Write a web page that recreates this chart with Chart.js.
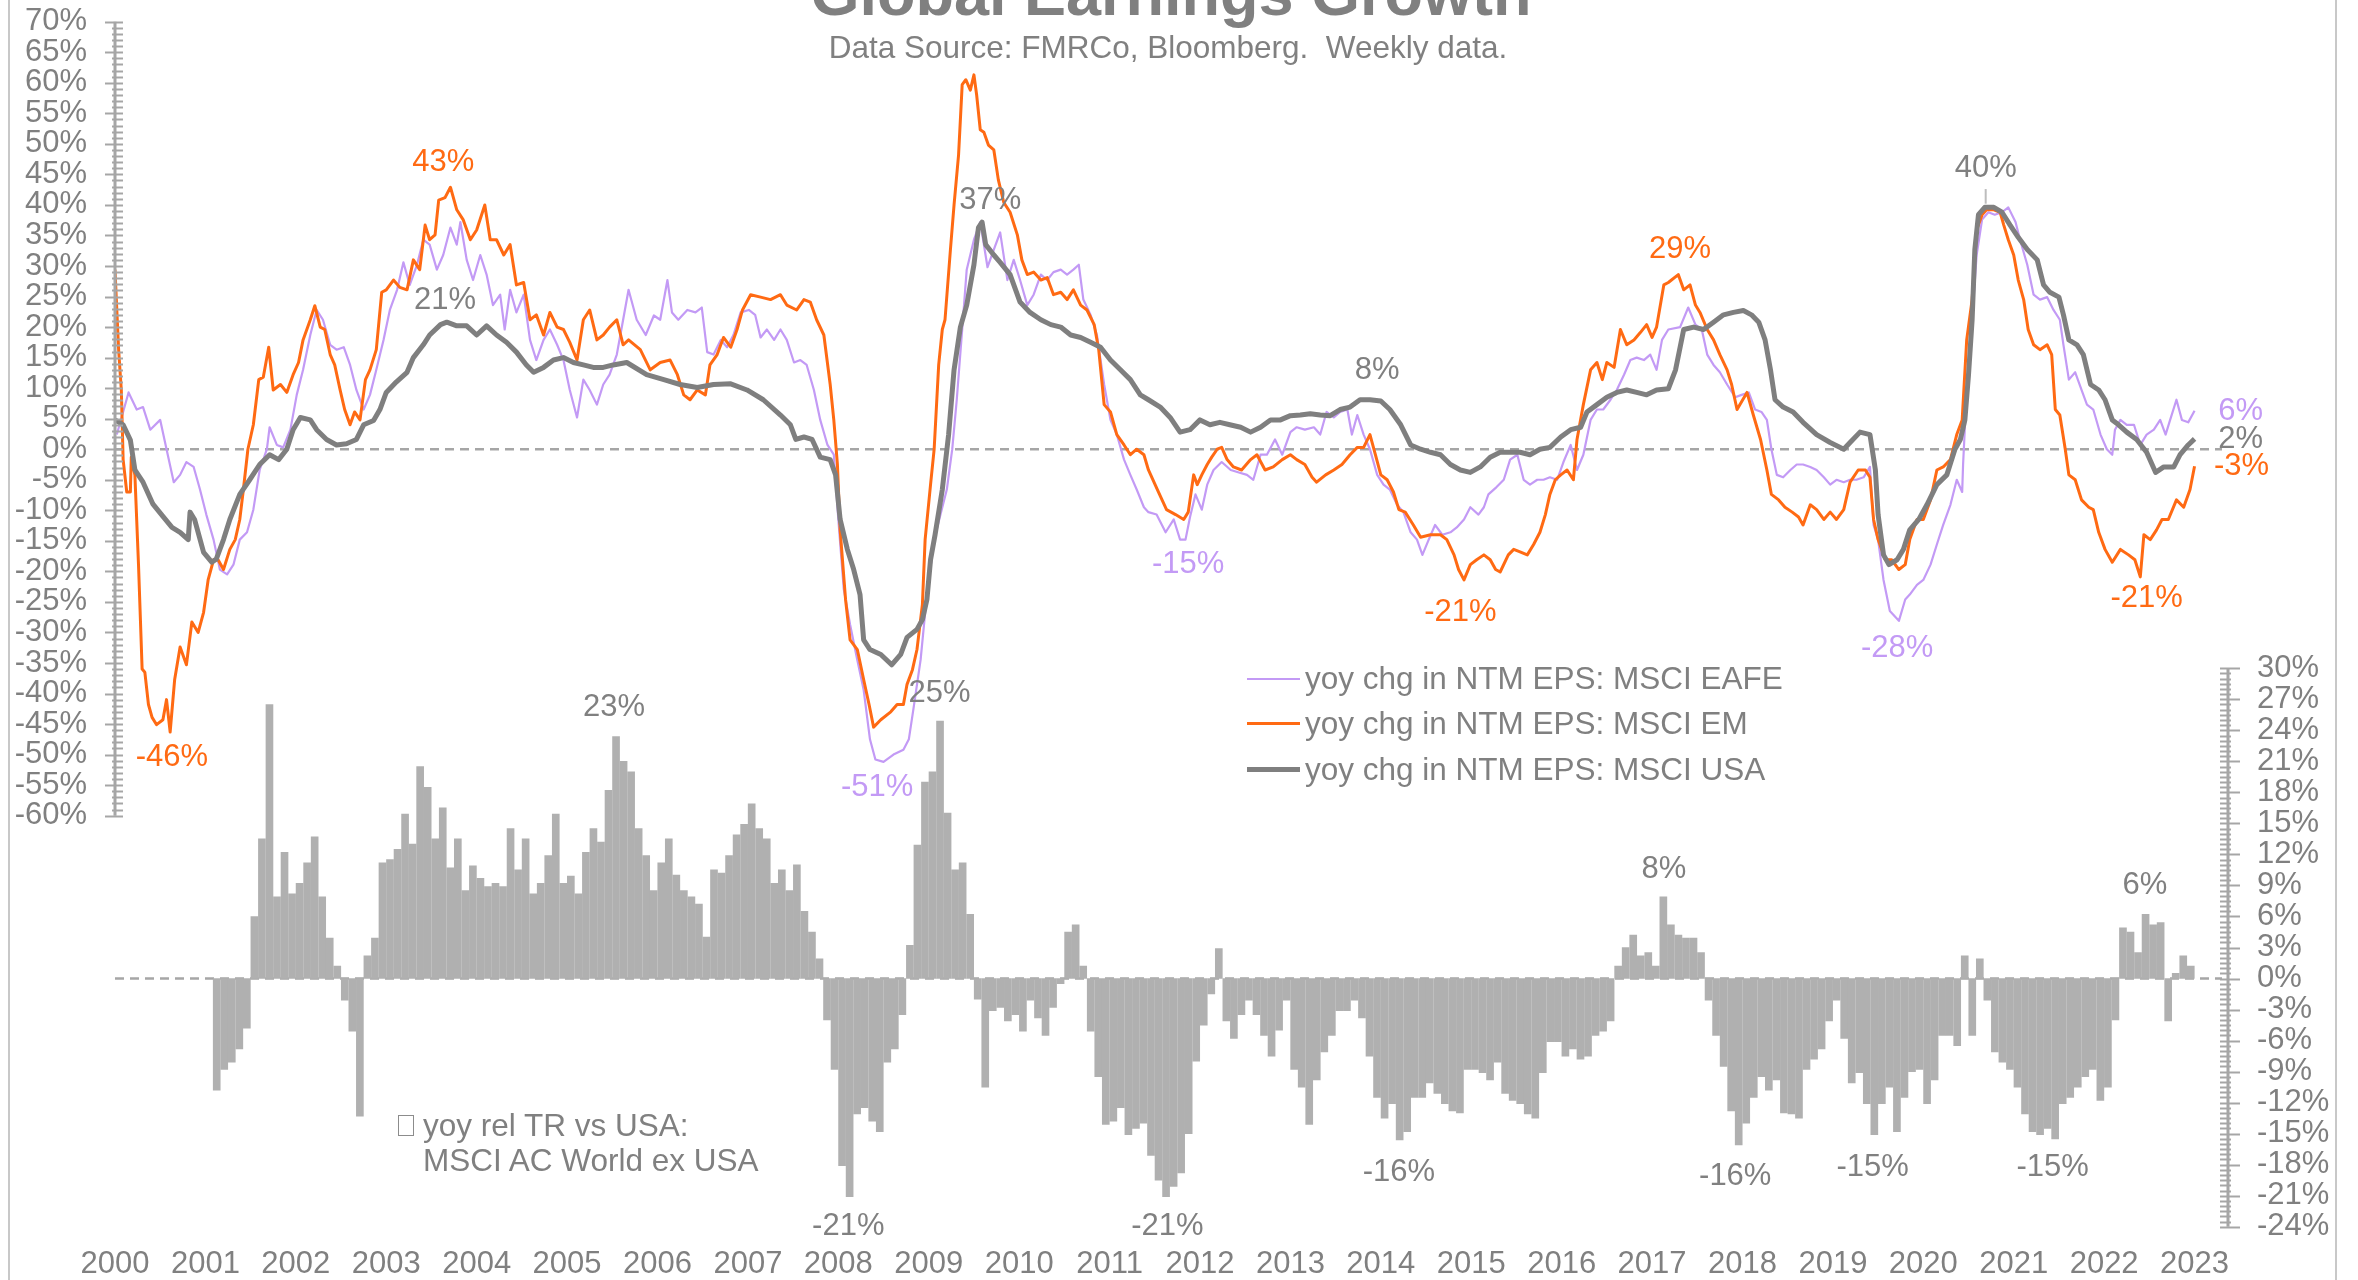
<!DOCTYPE html>
<html>
<head>
<meta charset="utf-8">
<script src="https://cdn.jsdelivr.net/npm/chart.js@4.4.1/dist/chart.umd.min.js"></script>
<style>
  html, body { margin: 0; padding: 0; background: #fff; }
  body { width: 2358px; height: 1280px; overflow: hidden; position: relative; font-family: "Liberation Sans", Arial, sans-serif; color: #808080; }
  #wrap { position: absolute; left: 0; top: 0; width: 2358px; height: 1300px; }
  canvas { position: absolute; left: 0; top: 0; }
  .frame { position: absolute; top: 0; width: 2px; height: 1300px; background: #c8c8c8; }
  .title { position: absolute; left: 0; width: 2342px; top: -38px; text-align: center; font-weight: bold; font-size: 63px; line-height: 63px; white-space: nowrap; }
  .sub { position: absolute; left: 0; width: 2336px; top: 32px; text-align: center; font-size: 31.5px; line-height: 31px; white-space: nowrap; }
  .txt { position: absolute; font-size: 31.5px; line-height: 31px; white-space: nowrap; }
  .key { position: absolute; width: 53px; }
  .box { position: absolute; width: 14px; height: 19px; border: 1.5px solid #8c8c8c; background: #fff; }
</style>
</head>
<body>
<div id="wrap">
  <canvas id="chart" width="2358" height="1300"></canvas>
  <div class="frame" style="left:8px"></div>
  <div class="frame" style="left:2335px"></div>
  <div class="title">Global Earnings Growth</div>
  <div class="sub">Data Source: FMRCo, Bloomberg.&nbsp; Weekly data.</div>

  <div class="key" style="left:1247px; top:678px; height:2px; background:#c39af5"></div>
  <div class="txt" style="left:1305px; top:663px">yoy chg in NTM EPS: MSCI EAFE</div>
  <div class="key" style="left:1247px; top:722px; height:3px; background:#ff6a13"></div>
  <div class="txt" style="left:1305px; top:708px">yoy chg in NTM EPS: MSCI EM</div>
  <div class="key" style="left:1247px; top:767px; height:5px; background:#7f7f7f"></div>
  <div class="txt" style="left:1305px; top:754px">yoy chg in NTM EPS: MSCI USA</div>

  <div class="box" style="left:398px; top:1115px"></div>
  <div class="txt" style="left:423px; top:1110px">yoy rel TR vs USA:</div>
  <div class="txt" style="left:423px; top:1145px">MSCI AC World ex USA</div>
</div>

<script>
// values: [year, % yoy]
const eafe = [
  [2000.02,2.4],[2000.15,9.3],[2000.24,6.5],[2000.31,6.9],[2000.39,3.2],[2000.50,4.8],[2000.57,0],[2000.65,-5.4],[2000.72,-4.2],[2000.79,-2.1],[2000.87,-2.9],[2000.94,-6.6],
  [2001.01,-10.7],[2001.09,-14.8],[2001.16,-19.7],[2001.24,-20.5],[2001.31,-18.9],[2001.38,-14.8],[2001.46,-13.6],[2001.53,-9.9],[2001.60,-3.4],[2001.68,0],[2001.71,3.6],[2001.79,0.7],[2001.86,0.3],[2001.94,3.2],
  [2002.01,8.9],[2002.08,13.0],[2002.16,18.7],[2002.23,22.8],[2002.30,21.2],[2002.38,17.1],[2002.45,16.3],[2002.53,16.7],[2002.60,13.8],[2002.67,9.7],[2002.75,6.5],[2002.82,8.9],[2002.89,13.0],[2002.97,17.9],
  [2003.04,22.8],[2003.12,26.1],[2003.19,30.6],[2003.26,26.9],[2003.34,30.2],[2003.41,34.3],[2003.48,33.5],[2003.56,29.4],[2003.63,31.8],[2003.71,36.3],[2003.78,33.5],[2003.82,37.2],[2003.89,31.0],[2003.96,27.7],
  [2004.04,31.8],[2004.11,28.6],[2004.18,23.6],[2004.26,25.3],[2004.31,19.6],[2004.37,26.1],[2004.44,22.4],[2004.52,25.3],[2004.59,17.9],[2004.66,14.6],[2004.74,17.9],[2004.81,19.6],[2004.89,17.1],[2004.96,14.6],
  [2005.03,9.7],[2005.11,5.2],[2005.18,11.4],[2005.25,9.7],[2005.33,7.3],[2005.40,10.6],[2005.47,12.2],[2005.55,15.5],[2005.62,21.2],[2005.68,26.1],[2005.77,21.2],[2005.87,18.7],[2005.96,21.9],
  [2006.03,21.2],[2006.11,27.7],[2006.16,22.4],[2006.23,21.2],[2006.33,22.8],[2006.42,22.4],[2006.49,23.2],[2006.55,15.9],[2006.62,15.5],[2006.70,17.9],[2006.77,16.7],[2006.84,18.7],[2006.92,22.4],
  [2007.01,22.8],[2007.08,22.0],[2007.14,18.3],[2007.21,19.6],[2007.29,17.9],[2007.36,19.6],[2007.43,17.9],[2007.51,14.2],[2007.58,14.6],[2007.65,13.8],[2007.73,9.7],[2007.80,4.8],[2007.88,0.7],[2007.95,-0.9],
  [2008.00,-11.5],[2008.06,-22.9],[2008.13,-28.7],[2008.21,-34.5],[2008.28,-39.4],[2008.35,-47.5],[2008.41,-50.8],[2008.50,-51.2],[2008.61,-50.0],[2008.72,-49.2],[2008.78,-47.5],[2008.83,-42.6],[2008.91,-34.5],[2008.98,-23.8],
  [2009.06,-14.8],[2009.13,-10.7],[2009.20,-6.6],[2009.26,0],[2009.31,8.1],[2009.37,19.6],[2009.42,29.4],[2009.50,34.3],[2009.57,37.2],[2009.65,29.8],[2009.72,32.7],[2009.79,35.5],[2009.87,27.7],[2009.94,31.0],
  [2010.01,27.7],[2010.09,23.6],[2010.16,25.3],[2010.24,28.6],[2010.31,27.7],[2010.38,29.0],[2010.46,29.4],[2010.53,28.6],[2010.60,29.4],[2010.66,30.2],[2010.71,24.5],[2010.79,22.0],[2010.86,18.7],[2010.94,10.6],
  [2011.01,4.8],[2011.08,2.4],[2011.16,-1.7],[2011.23,-4.2],[2011.30,-6.6],[2011.38,-9.5],[2011.43,-10.3],[2011.52,-10.7],[2011.62,-13.6],[2011.71,-11.5],[2011.78,-14.8],[2011.84,-14.8],[2011.89,-11.1],[2011.95,-7.4],
  [2012.02,-9.9],[2012.08,-5.8],[2012.15,-3.4],[2012.24,-2.1],[2012.34,-3.4],[2012.43,-3.8],[2012.52,-4.2],[2012.59,-5.0],[2012.67,-0.9],[2012.74,-0.9],[2012.83,1.6],[2012.91,-0.9],
  [2013.00,2.8],[2013.07,3.6],[2013.16,3.2],[2013.26,3.6],[2013.33,2.4],[2013.40,6.1],[2013.48,5.2],[2013.55,6.1],[2013.63,6.5],[2013.68,2.4],[2013.74,5.6],[2013.81,2.4],[2013.88,0],[2013.96,-4.2],
  [2014.03,-5.8],[2014.10,-6.6],[2014.18,-9.1],[2014.25,-10.3],[2014.33,-13.6],[2014.40,-14.8],[2014.46,-17.3],[2014.53,-14.8],[2014.60,-12.4],[2014.68,-14.0],[2014.77,-13.6],[2014.84,-12.8],[2014.92,-11.5],[2014.99,-9.5],
  [2015.08,-10.7],[2015.14,-9.5],[2015.19,-7.4],[2015.28,-6.2],[2015.36,-5.0],[2015.43,-1.7],[2015.51,-0.9],[2015.58,-5.0],[2015.65,-5.8],[2015.73,-5.0],[2015.80,-5.0],[2015.87,-4.6],[2015.95,-5.0],
  [2016.02,-2.1],[2016.10,0.7],[2016.17,-3.4],[2016.24,-0.9],[2016.32,4.8],[2016.39,6.5],[2016.46,6.5],[2016.54,8.1],[2016.61,9.7],[2016.69,12.2],[2016.76,14.6],[2016.83,15.0],[2016.91,14.6],[2016.98,15.5],
  [2017.05,13.0],[2017.11,17.9],[2017.18,19.6],[2017.31,20.0],[2017.40,23.2],[2017.48,20.4],[2017.55,19.6],[2017.61,15.5],[2017.68,13.8],[2017.75,12.6],[2017.83,10.6],[2017.92,8.5],[2017.99,8.9],
  [2018.07,9.3],[2018.14,6.5],[2018.21,6.1],[2018.27,4.8],[2018.32,0],[2018.38,-4.2],[2018.45,-4.6],[2018.53,-3.4],[2018.60,-2.5],[2018.67,-2.5],[2018.75,-2.9],[2018.82,-3.4],[2018.90,-4.6],[2018.97,-5.8],
  [2019.04,-5.0],[2019.12,-5.4],[2019.19,-5.0],[2019.26,-5.0],[2019.34,-4.6],[2019.41,-2.9],[2019.45,-12.4],[2019.50,-14.8],[2019.56,-21.4],[2019.63,-26.5],[2019.73,-28.1],[2019.80,-24.6],[2019.85,-23.8],[2019.93,-22.2],
  [2020.00,-21.4],[2020.08,-18.9],[2020.15,-15.6],[2020.22,-12.4],[2020.30,-9.1],[2020.37,-5.0],[2020.43,-7.0],[2020.44,-2.5],[2020.48,9.7],[2020.54,21.2],[2020.59,31.8],[2020.65,37.6],[2020.72,38.8],[2020.79,38.4],[2020.87,38.8],[2020.94,39.6],
  [2021.02,37.2],[2021.07,34.3],[2021.15,30.2],[2021.22,25.3],[2021.29,24.5],[2021.37,24.9],[2021.44,22.8],[2021.51,21.2],[2021.55,17.1],[2021.61,11.4],[2021.68,12.6],[2021.75,9.7],[2021.81,7.3],[2021.88,6.5],[2021.96,2.4],
  [2022.03,0],[2022.09,-0.9],[2022.12,3.2],[2022.18,4.8],[2022.25,4.0],[2022.33,4.0],[2022.40,0.7],[2022.47,2.4],[2022.55,3.2],[2022.62,4.8],[2022.68,2.4],[2022.73,4.8],[2022.80,8.1],[2022.86,4.8],[2022.93,4.4],[2023.00,6.3]
];

const em = [
  [2000.00,29.4],[2000.04,16.3],[2000.07,9.7],[2000.09,-1.7],[2000.13,-7.0],[2000.17,-7.0],[2000.18,-1.3],[2000.22,-4.2],[2000.26,-18.9],[2000.30,-36.0],[2000.33,-36.5],[2000.37,-41.8],[2000.41,-43.9],[2000.46,-45.1],
  [2000.53,-44.3],[2000.57,-41.0],[2000.61,-46.3],[2000.66,-37.7],[2000.72,-32.4],[2000.79,-35.3],[2000.85,-28.3],[2000.92,-30.0],[2000.98,-26.7],
  [2001.03,-21.4],[2001.09,-18.1],[2001.14,-18.1],[2001.20,-19.7],[2001.27,-16.4],[2001.33,-14.8],[2001.38,-11.5],[2001.42,-6.6],[2001.47,0],[2001.53,4.0],[2001.59,11.4],[2001.64,11.8],[2001.70,16.7],[2001.75,9.7],[2001.83,10.6],[2001.90,9.3],[2001.97,12.2],
  [2002.03,14.2],[2002.08,17.9],[2002.16,21.2],[2002.21,23.5],[2002.27,20.0],[2002.32,19.6],[2002.38,15.5],[2002.43,13.8],[2002.49,9.7],[2002.54,6.5],[2002.60,4.0],[2002.65,6.1],[2002.71,4.8],[2002.77,11.4],[2002.82,13.0],[2002.89,16.3],[2002.95,25.7],
  [2003.00,26.1],[2003.08,27.7],[2003.15,26.5],[2003.23,26.1],[2003.30,31.0],[2003.37,29.4],[2003.43,36.7],[2003.48,34.3],[2003.54,35.1],[2003.58,40.8],[2003.65,41.2],[2003.71,42.9],[2003.78,39.2],[2003.85,37.6],[2003.93,34.3],
  [2004.00,35.9],[2004.09,40.0],[2004.15,34.3],[2004.22,34.3],[2004.30,31.8],[2004.37,33.5],[2004.44,26.9],[2004.52,27.3],[2004.59,21.2],[2004.66,22.0],[2004.74,18.7],[2004.81,22.4],[2004.89,20.0],[2004.96,19.6],
  [2005.03,17.5],[2005.11,14.6],[2005.18,21.2],[2005.25,22.8],[2005.33,17.9],[2005.40,18.7],[2005.47,20.0],[2005.55,21.2],[2005.62,17.1],[2005.68,17.9],[2005.81,16.3],[2005.92,13.0],
  [2006.03,14.2],[2006.14,14.6],[2006.22,12.2],[2006.29,8.9],[2006.36,8.1],[2006.44,9.7],[2006.53,8.9],[2006.58,13.8],[2006.66,15.5],[2006.73,18.3],[2006.81,16.7],[2006.88,19.6],[2006.94,22.8],
  [2007.03,25.3],[2007.14,24.9],[2007.25,24.5],[2007.36,25.3],[2007.43,23.6],[2007.54,22.8],[2007.62,24.5],[2007.69,24.1],[2007.76,21.2],[2007.84,18.7],[2007.91,10.6],[2007.95,4.8],[2007.99,-2.5],
  [2008.02,-13.2],[2008.08,-24.6],[2008.13,-31.2],[2008.21,-32.8],[2008.28,-37.7],[2008.34,-41.8],[2008.39,-45.5],[2008.47,-44.3],[2008.58,-43.0],[2008.65,-41.8],[2008.72,-41.8],[2008.76,-38.5],[2008.82,-36.1],[2008.87,-32.8],[2008.93,-25.4],[2008.96,-14.8],
  [2009.02,-5.8],[2009.06,0],[2009.11,13.8],[2009.15,19.6],[2009.18,21.2],[2009.24,32.7],[2009.28,40.0],[2009.33,48.2],[2009.37,59.7],[2009.41,60.5],[2009.46,58.8],[2009.50,61.3],[2009.53,58.0],[2009.57,52.3],[2009.61,51.9],
  [2009.66,49.8],[2009.72,49.0],[2009.77,44.1],[2009.83,40.4],[2009.90,38.8],[2009.98,35.1],
  [2010.03,31.0],[2010.09,28.6],[2010.16,29.0],[2010.24,27.7],[2010.31,28.1],[2010.38,25.3],[2010.46,25.7],[2010.53,24.5],[2010.60,26.1],[2010.68,23.6],[2010.75,22.8],[2010.83,20.4],[2010.88,16.3],[2010.94,7.3],
  [2011.01,6.1],[2011.08,2.4],[2011.16,0.7],[2011.23,-0.9],[2011.30,0],[2011.38,-0.9],[2011.43,-3.4],[2011.54,-7.0],[2011.63,-9.9],[2011.73,-10.7],[2011.82,-11.5],[2011.87,-10.3],[2011.93,-4.2],[2011.97,-5.8],
  [2012.02,-4.2],[2012.08,-2.5],[2012.13,-1.3],[2012.19,0],[2012.24,0.3],[2012.30,-1.7],[2012.37,-2.9],[2012.46,-3.4],[2012.56,-1.7],[2012.63,-0.9],[2012.72,-3.4],[2012.81,-2.9],[2012.91,-1.7],
  [2013.00,-0.9],[2013.07,-1.7],[2013.16,-2.5],[2013.24,-4.6],[2013.29,-5.4],[2013.39,-4.2],[2013.48,-3.4],[2013.57,-2.5],[2013.66,-0.9],[2013.74,0.3],[2013.81,0.3],[2013.88,2.4],[2013.94,-0.9],
  [2014.00,-4.2],[2014.07,-5.0],[2014.14,-7.0],[2014.20,-9.9],[2014.27,-10.3],[2014.36,-12.4],[2014.44,-14.4],[2014.55,-14.0],[2014.66,-14.0],[2014.73,-14.8],[2014.81,-17.3],[2014.86,-19.7],[2014.92,-21.4],[2014.99,-18.9],
  [2015.06,-18.1],[2015.14,-17.3],[2015.21,-18.1],[2015.27,-19.7],[2015.32,-20.1],[2015.41,-17.3],[2015.47,-16.4],[2015.54,-16.8],[2015.62,-17.3],[2015.69,-15.6],[2015.76,-13.6],[2015.82,-10.7],[2015.87,-7.4],[2015.93,-5.0],[2015.99,-4.2],
  [2016.06,-3.4],[2016.13,-5.0],[2016.17,1.6],[2016.24,7.3],[2016.32,13.0],[2016.39,14.2],[2016.45,11.4],[2016.50,14.2],[2016.58,13.4],[2016.65,19.6],[2016.72,17.1],[2016.80,17.9],[2016.87,19.1],[2016.94,20.4],
  [2017.00,18.3],[2017.05,20.0],[2017.13,26.9],[2017.18,27.3],[2017.29,28.6],[2017.35,26.1],[2017.42,26.9],[2017.48,23.6],[2017.53,22.4],[2017.61,19.6],[2017.68,17.9],[2017.75,15.5],[2017.83,13.0],[2017.88,10.6],[2017.94,6.5],
  [2018.05,9.3],[2018.12,5.6],[2018.20,1.6],[2018.27,-3.4],[2018.32,-7.4],[2018.40,-8.3],[2018.47,-9.5],[2018.55,-10.3],[2018.62,-11.1],[2018.67,-12.4],[2018.75,-9.1],[2018.82,-9.9],[2018.90,-11.5],[2018.97,-10.3],
  [2019.04,-11.5],[2019.12,-9.9],[2019.19,-5.4],[2019.28,-3.4],[2019.36,-3.4],[2019.41,-4.6],[2019.45,-11.5],[2019.50,-14.8],[2019.58,-18.1],[2019.65,-18.1],[2019.73,-19.7],[2019.80,-18.9],[2019.85,-14.8],[2019.93,-11.5],
  [2020.00,-11.5],[2020.08,-8.3],[2020.15,-3.4],[2020.22,-2.9],[2020.30,-1.7],[2020.37,2.4],[2020.43,4.8],[2020.48,17.9],[2020.54,24.5],[2020.59,35.9],[2020.65,38.4],[2020.70,39.2],[2020.78,39.2],[2020.85,38.8],[2020.89,36.7],[2020.94,34.3],
  [2021.00,31.8],[2021.05,27.7],[2021.11,24.5],[2021.16,19.6],[2021.22,17.1],[2021.29,16.3],[2021.37,17.1],[2021.42,15.5],[2021.46,6.5],[2021.51,5.6],[2021.57,0],[2021.61,-4.2],[2021.68,-5.0],[2021.75,-8.3],[2021.83,-9.5],[2021.88,-9.9],[2021.94,-13.6],
  [2022.01,-16.4],[2022.09,-18.5],[2022.18,-16.4],[2022.27,-17.3],[2022.34,-18.1],[2022.40,-20.9],[2022.44,-14.0],[2022.51,-14.8],[2022.58,-13.2],[2022.64,-11.5],[2022.71,-11.5],[2022.80,-8.3],[2022.88,-9.5],[2022.95,-6.6],[2023.00,-2.8]
];

const usa = [
  [2000.00,4.8],[2000.09,4.0],[2000.17,1.5],[2000.22,-3.4],[2000.31,-5.4],[2000.42,-9.0],[2000.53,-11.0],[2000.63,-12.8],[2000.72,-13.6],[2000.81,-14.8],[2000.83,-10.3],[2000.88,-11.5],[2000.98,-16.9],
  [2001.07,-18.5],[2001.12,-18.0],[2001.20,-14.8],[2001.27,-11.5],[2001.38,-7.4],[2001.49,-5.0],[2001.60,-2.5],[2001.71,-0.9],[2001.81,-1.7],[2001.90,0],[2001.97,3.2],
  [2002.05,5.2],[2002.16,4.8],[2002.23,3.2],[2002.34,1.6],[2002.45,0.7],[2002.56,0.9],[2002.67,1.6],[2002.75,4.0],[2002.86,4.7],[2002.93,6.5],
  [2003.00,9.3],[2003.11,11.0],[2003.23,12.6],[2003.30,15.0],[2003.41,17.1],[2003.48,18.7],[2003.60,20.4],[2003.67,20.8],[2003.78,20.2],[2003.89,20.2],
  [2004.00,18.7],[2004.11,20.2],[2004.22,18.7],[2004.33,17.5],[2004.44,15.9],[2004.55,13.8],[2004.63,12.6],[2004.74,13.4],[2004.85,14.6],[2004.96,15.0],
  [2005.07,14.2],[2005.18,13.8],[2005.29,13.4],[2005.40,13.4],[2005.51,13.8],[2005.66,14.2],[2005.88,12.2],
  [2006.07,11.4],[2006.25,10.6],[2006.44,10.1],[2006.62,10.6],[2006.81,10.7],[2006.99,9.7],
  [2007.17,8.1],[2007.36,5.6],[2007.47,4.0],[2007.53,1.6],[2007.62,2.0],[2007.71,1.6],[2007.80,-1.3],[2007.91,-1.7],[2007.97,-4.2],
  [2008.02,-11.5],[2008.10,-16.4],[2008.17,-19.7],[2008.24,-23.8],[2008.28,-31.2],[2008.35,-32.8],[2008.47,-33.6],[2008.59,-35.3],[2008.69,-33.6],[2008.76,-30.8],[2008.87,-29.5],[2008.93,-27.9],[2008.98,-24.6],
  [2009.02,-18.1],[2009.07,-14.0],[2009.15,-6.6],[2009.22,2.4],[2009.28,13.0],[2009.35,20.0],[2009.42,23.6],[2009.50,30.2],[2009.55,36.3],[2009.59,37.2],[2009.63,33.5],[2009.72,31.8],[2009.79,30.6],[2009.90,28.6],
  [2010.01,24.1],[2010.12,22.4],[2010.24,21.2],[2010.35,20.4],[2010.46,20.0],[2010.57,18.7],[2010.68,18.3],[2010.79,17.5],[2010.90,16.7],
  [2011.01,14.6],[2011.12,13.0],[2011.23,11.4],[2011.34,8.9],[2011.43,8.1],[2011.56,6.9],[2011.67,5.2],[2011.78,2.8],[2011.89,3.2],
  [2012.00,4.8],[2012.11,4.0],[2012.22,4.4],[2012.33,4.0],[2012.45,3.6],[2012.56,2.8],[2012.67,3.6],[2012.78,4.8],[2012.89,4.8],
  [2013.00,5.5],[2013.11,5.6],[2013.22,5.8],[2013.33,5.6],[2013.44,5.5],[2013.55,6.5],[2013.66,6.9],[2013.77,8.1],[2013.88,8.1],
  [2014.00,7.9],[2014.10,6.5],[2014.22,4.0],[2014.33,0.7],[2014.44,0],[2014.55,-0.5],[2014.66,-0.9],[2014.77,-2.5],[2014.88,-3.4],[2014.99,-3.8],
  [2015.10,-2.9],[2015.21,-1.3],[2015.32,-0.5],[2015.43,-0.5],[2015.54,-0.5],[2015.65,-0.9],[2015.76,0],[2015.87,0.3],[2015.99,2.0],
  [2016.10,3.2],[2016.21,3.6],[2016.28,6.1],[2016.39,7.3],[2016.50,8.5],[2016.61,9.3],[2016.72,9.7],[2016.83,9.3],[2016.94,8.9],
  [2017.05,9.7],[2017.18,9.9],[2017.26,13.0],[2017.35,19.6],[2017.46,20.0],[2017.57,19.6],[2017.68,20.8],[2017.79,22.0],[2017.90,22.4],
  [2018.01,22.7],[2018.10,22.0],[2018.18,20.8],[2018.25,17.9],[2018.31,13.0],[2018.36,8.1],[2018.45,6.9],[2018.56,6.1],[2018.67,4.4],[2018.82,2.4],[2018.97,1.1],
  [2019.12,0],[2019.19,1.1],[2019.30,2.8],[2019.41,2.4],[2019.47,-3.4],[2019.50,-10.7],[2019.56,-17.3],[2019.62,-18.9],[2019.71,-18.1],[2019.78,-16.4],[2019.85,-13.2],[2019.95,-11.5],
  [2020.04,-9.1],[2020.15,-5.8],[2020.26,-4.2],[2020.35,0],[2020.41,1.6],[2020.46,4.8],[2020.50,12.2],[2020.54,21.2],[2020.57,32.7],[2020.61,38.4],[2020.68,39.6],[2020.78,39.6],[2020.87,38.8],[2020.96,36.7],
  [2021.05,34.7],[2021.15,32.7],[2021.26,31.0],[2021.33,26.9],[2021.40,25.7],[2021.50,24.9],[2021.55,22.0],[2021.61,17.9],[2021.70,17.1],[2021.77,15.5],[2021.85,10.6],[2021.94,9.7],
  [2022.01,8.1],[2022.09,4.8],[2022.16,4.0],[2022.25,2.8],[2022.36,1.6],[2022.47,-0.5],[2022.57,-3.8],[2022.66,-2.9],[2022.77,-2.9],[2022.84,-0.9],[2022.93,0.7],[2023.00,1.7]
];

// yoy rel TR vs USA, one value per month, Jan 2000 .. Dec 2022
const relTR = [
  null,null,null,null,null,null,null,null,null,null,null,null,
  null,-10.8,-8.8,-8.1,-6.8,-4.8,6.0,13.5,26.5,7.9,12.2,8.2,
  9.2,11.2,13.7,7.9,3.9,1.2,-2.1,-5.1,-13.3,2.2,3.9,11.2,
  11.5,12.5,15.9,13.0,20.5,18.5,13.5,16.5,10.7,13.5,8.5,10.9,
  9.7,8.9,9.2,8.9,14.5,10.5,13.5,8.2,9.2,11.9,15.9,9.2,
  9.9,8.2,12.2,14.5,13.2,18.2,23.4,21.0,20.0,14.5,11.9,8.5,
  11.2,13.5,10.0,8.5,7.9,7.2,4.0,10.5,10.2,11.9,13.9,14.9,
  16.9,14.5,13.5,9.2,10.5,8.5,11.0,6.5,4.5,1.9,-4.0,-8.8,
  -18.1,-21.1,-13.1,-12.5,-13.8,-14.8,-8.1,-6.8,-3.5,3.2,12.9,19.0,
  20.0,24.9,16.0,10.5,11.2,6.2,-2.0,-10.5,-3.1,-2.8,-4.1,-3.5,
  -5.1,-2.1,-3.8,-5.5,-2.8,-0.5,4.5,5.2,1.2,-5.1,-9.5,-14.1,
  -13.8,-12.5,-15.1,-14.5,-14.0,-17.1,-19.5,-21.1,-20.1,-18.8,-15.0,-8.0,
  -4.5,-1.5,2.9,-4.1,-5.8,-3.5,-2.1,-3.5,-5.5,-7.5,-5.0,-2.1,
  -8.8,-10.5,-14.1,-9.8,-7.1,-5.5,-3.1,-3.1,-2.1,-3.8,-7.5,-11.5,
  -13.5,-12.1,-15.6,-14.8,-11.5,-11.5,-10.1,-11.1,-12.1,-12.8,-13.0,-8.8,
  -8.8,-9.1,-9.8,-8.1,-11.1,-11.8,-12.1,-13.1,-13.5,-9.1,-6.1,-6.1,
  -7.5,-6.8,-7.8,-7.5,-5.5,-5.1,-4.1,1.2,3.0,4.2,2.2,2.5,
  1.2,7.9,5.2,4.2,3.9,3.9,2.5,-2.1,-5.5,-8.5,-12.8,-16.1,
  -14.0,-11.5,-9.5,-10.8,-9.8,-13.0,-13.1,-13.5,-8.8,-7.8,-6.8,-4.1,
  -2.1,-5.8,-10.1,-9.1,-12.1,-15.1,-12.1,-10.5,-14.8,-11.5,-9.0,-8.8,
  -12.1,-9.8,-5.5,-5.5,-6.5,2.2,-5.5,1.9,-2.1,-7.1,-8.1,-8.8,
  -10.5,-13.1,-14.8,-15.1,-14.5,-15.5,-12.1,-11.5,-10.5,-9.5,-8.8,-11.8,
  -10.5,-4.0,4.9,4.5,2.5,6.2,5.2,5.4,-4.1,0.5,2.2,1.2
];

const yearTicks = Array.from({length: 24}, (_, i) => 2000 + i);
const leftTicks = Array.from({length: 27}, (_, i) => -60 + i * 5);
const rightTicks = Array.from({length: 19}, (_, i) => -24 + i * 3);

// value labels, [year, value, text]
const emNotes = [[2003.63,47.0,'43%'],[2000.63,-50.4,'-46%'],[2014.88,-26.7,'-21%'],[2017.31,32.7,'29%'],[2022.47,-24.5,'-21%'],[2023.52,-2.8,'-3%']];
const eafeNotes = [[2008.43,-55.3,'-51%'],[2011.87,-18.9,'-15%'],[2019.71,-32.6,'-28%'],[2023.51,6.2,'6%']];
const usaNotes = [[2003.65,24.3,'21%'],[2009.68,40.7,'37%'],[2013.96,12.9,'8%'],[2020.69,45.9,'40%'],[2023.51,1.6,'2%']];
const barNotes = [[2005.52,26.2,'23%'],[2009.12,27.6,'25%'],[2008.11,-24.0,'-21%'],[2011.64,-24.0,'-21%'],[2014.20,-18.8,'-16%'],
  [2017.92,-19.1,'-16%'],[2019.44,-18.3,'-15%'],[2021.43,-18.3,'-15%'],[2017.13,10.5,'8%'],[2022.45,9.0,'6%']];

const C_EAFE = '#c39af5', C_EM = '#ff6a13', C_USA = '#7f7f7f', C_TXT = '#808080', C_AXIS = '#a6a6a6', C_BAR = '#b0b0b0';
const FONT = '"Liberation Sans", Arial, sans-serif';

const pts = arr => arr.map(([x, y]) => ({x, y}));

const decor = {
  id: 'decor',
  beforeDatasetsDraw(chart) {
    const {ctx, chartArea, scales} = chart;
    ctx.save();
    ctx.strokeStyle = C_AXIS;
    ctx.lineWidth = 2.5;
    ctx.setLineDash([9, 6]);
    [scales.y, scales.y1].forEach(s => {
      const py = s.getPixelForValue(0);
      ctx.beginPath();
      ctx.moveTo(chartArea.left, py);
      ctx.lineTo(chartArea.right - 6, py);
      ctx.stroke();
    });
    ctx.restore();
  },
  afterDatasetsDraw(chart) {
    const {ctx, chartArea, scales} = chart;
    const {x, y, y1} = scales;
    ctx.save();
    ctx.strokeStyle = C_AXIS;
    // left axis, 70% .. -60%
    let ax = chartArea.left;
    ctx.lineWidth = 3;
    ctx.beginPath(); ctx.moveTo(ax, y.getPixelForValue(70)); ctx.lineTo(ax, y.getPixelForValue(-60)); ctx.stroke();
    ctx.lineWidth = 2;
    for (let v = -60; v <= 70; v++) {
      const py = Math.round(y.getPixelForValue(v)) + 0.5;
      const major = v % 5 === 0;
      ctx.beginPath(); ctx.moveTo(ax - (major ? 10 : 3), py); ctx.lineTo(ax + 8, py); ctx.stroke();
    }
    // right axis, 30% .. -24%
    ax = chartArea.right;
    ctx.lineWidth = 3;
    ctx.beginPath(); ctx.moveTo(ax, y1.getPixelForValue(30)); ctx.lineTo(ax, y1.getPixelForValue(-24)); ctx.stroke();
    ctx.lineWidth = 2;
    for (let v = -24; v <= 30; v += 0.5) {
      const py = Math.round(y1.getPixelForValue(v)) + 0.5;
      const major = v % 3 === 0;
      ctx.beginPath(); ctx.moveTo(ax - 8, py); ctx.lineTo(ax + (major ? 12 : 3), py); ctx.stroke();
    }
    // leader line of the 40% label
    ctx.strokeStyle = '#bdbdbd';
    ctx.lineWidth = 2;
    ctx.beginPath(); ctx.moveTo(x.getPixelForValue(2020.69), y.getPixelForValue(42.6)); ctx.lineTo(x.getPixelForValue(2020.69), y.getPixelForValue(40.2)); ctx.stroke();
    // value labels
    ctx.font = '31px ' + FONT;
    ctx.textAlign = 'center';
    ctx.textBaseline = 'middle';
    const put = (notes, scale, color) => {
      ctx.fillStyle = color;
      notes.forEach(([xv, yv, t]) => ctx.fillText(t, x.getPixelForValue(xv), scale.getPixelForValue(yv)));
    };
    put(emNotes, y, C_EM);
    put(eafeNotes, y, C_EAFE);
    put(usaNotes, y, C_TXT);
    put(barNotes, y1, C_TXT);
    ctx.restore();
  }
};

const tickFont = {family: FONT, size: 31, lineHeight: 1};
// fixed axis boxes; the top edge of the plot comes from the y scales' own padding
const fixY = width => s => { s.width = width; s.paddingTop = 21.7; s.paddingBottom = 0; };

new Chart(document.getElementById('chart'), {
  type: 'line',
  data: {
    datasets: [
      {label: 'yoy chg in NTM EPS: MSCI USA', data: pts(usa), yAxisID: 'y', borderColor: C_USA, borderWidth: 5, order: 1},
      {label: 'yoy chg in NTM EPS: MSCI EM', data: pts(em), yAxisID: 'y', borderColor: C_EM, borderWidth: 3, order: 2},
      {label: 'yoy chg in NTM EPS: MSCI EAFE', data: pts(eafe), yAxisID: 'y', borderColor: C_EAFE, borderWidth: 2.2, order: 3},
      {type: 'bar', label: 'yoy rel TR vs USA: MSCI AC World ex USA', yAxisID: 'y1', order: 4,
       data: relTR.map((v, i) => ({x: 2000 + (i + 0.5) / 12, y: v})),
       backgroundColor: C_BAR, barThickness: 7, borderWidth: 0}
    ]
  },
  options: {
    responsive: false,
    animation: false,
    events: [],
    layout: {padding: 0},
    elements: {line: {tension: 0, borderJoinStyle: 'round'}, point: {radius: 0}},
    plugins: {legend: {display: false}, tooltip: {enabled: false}},
    scales: {
      x: {
        type: 'linear', min: 2000, max: 2023.37, offset: false,
        grid: {display: false, drawTicks: false}, border: {display: false},
        afterBuildTicks: s => { s.ticks = yearTicks.map(v => ({value: v})); },
        afterFit: s => { s.height = 1300 - 1226.7; s.paddingLeft = 0; s.paddingRight = 0; },
        ticks: {autoSkip: false, maxRotation: 0, padding: 22, color: C_TXT, font: tickFont, callback: v => String(v)}
      },
      y: {
        position: 'left', min: -127.3, max: 70,
        grid: {display: false, drawTicks: false}, border: {display: false},
        afterBuildTicks: s => { s.ticks = leftTicks.map(v => ({value: v})); },
        afterFit: fixY(115),
        ticks: {autoSkip: false, padding: 28, color: C_TXT, font: tickFont, callback: v => v + '%'}
      },
      y1: {
        position: 'right', min: -24, max: 92.53,
        grid: {display: false, drawTicks: false}, border: {display: false},
        afterBuildTicks: s => { s.ticks = rightTicks.map(v => ({value: v})); },
        afterFit: fixY(130),
        ticks: {autoSkip: false, padding: 29, color: C_TXT, font: tickFont, callback: v => v + '%'}
      }
    }
  },
  plugins: [decor]
});
</script>
</body>
</html>
